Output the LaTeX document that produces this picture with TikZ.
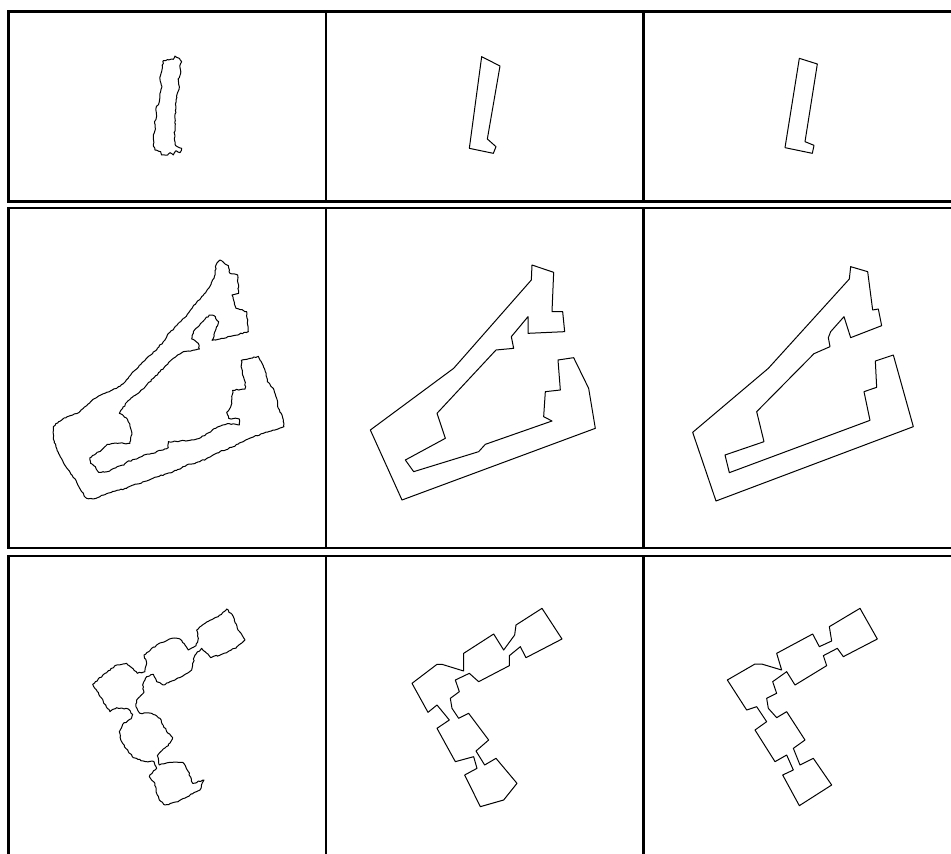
\documentclass[tikz,border=0pt]{standalone}
\usetikzlibrary{decorations.pathmorphing}
\tikzset{
  frame/.style={line width=2.4pt},
  outline/.style={line width=1pt, line join=round},
  rough/.style={outline, decorate,
                decoration={random steps, segment length=2pt, amplitude=0.6pt}},
  cell/.style={shift={#1}, scale=1/3},
}
\begin{document}
\begin{tikzpicture}[x=1pt, y=-1pt]
  \useasboundingbox (0,0) rectangle (951,854);
  \foreach \top/\bot in {11.5/201.5, 208/548, 556/880} {
    \draw[frame] (965,\top) -| (8.5,\bot) -- (965,\bot);
    \draw[frame] (326,\top) -- (326,\bot) (643.5,\top) -- (643.5,\bot);
  }
  % first row
  \begin{scope}[cell={(120,40)}]
    \draw[rough] plot coordinates {(130,62) (160,58) (165,48) (178,55) (185,65)
      (180,82) (182,100) (175,120) (178,140) (172,160) (168,180) (168,205)
      (165,235) (165,265) (163,295) (165,312) (172,320) (185,325) (180,338)
      (168,332) (160,345) (150,338) (143,345) (125,345) (122,335) (105,330)
      (100,318) (100,290) (106,268) (104,250) (110,228) (108,205) (118,185)
      (120,160) (126,140) (120,118) (125,95)} -- cycle;
  \end{scope}
  \begin{scope}[cell={(440,40)}]
    \draw[outline] plot coordinates {(125,50) (180,78) (142,297) (168,320)
      (160,340) (88,325)} -- cycle;
  \end{scope}
  \begin{scope}[cell={(760,40)}]
    \draw[outline] plot coordinates {(118,55) (172,72) (135,305) (162,316)
      (157,340) (75,323)} -- cycle;
  \end{scope}
  % second row
  \begin{scope}[cell={(0,195)}]
    \draw[rough] plot coordinates {(660,195) (685,212) (690,235) (713,240)
      (716,295) (696,300) (708,340) (740,350) (745,410) (700,422) (660,432)
      (636,436) (648,402) (656,380) (642,362) (628,360) (610,378) (598,392)
      (580,410) (575,432) (595,445) (598,462) (578,466) (550,470) (520,490)
      (500,510) (480,530) (460,550) (440,570) (420,590) (398,606) (380,622)
      (368,640) (358,655) (378,668) (390,688) (396,718) (390,745) (352,745)
      (322,748) (308,762) (288,776) (270,788) (272,805) (286,815) (296,832)
      (322,830) (342,820) (372,810) (382,800) (410,792) (432,780) (460,775)
      (482,766) (505,758) (505,740) (540,738) (580,735) (602,728) (622,715)
      (652,696) (682,686) (718,690) (718,672) (686,670) (680,652) (692,636)
      (696,610) (698,586) (735,582) (736,562) (728,540) (725,520) (724,496)
      (750,490) (775,484) (786,505) (796,530) (802,560) (820,580) (830,610)
      (835,640) (848,668) (852,695) (820,705) (790,715) (760,726) (730,740)
      (700,755) (660,770) (630,786) (600,800) (560,810) (530,826) (500,836)
      (470,846) (440,858) (400,870) (380,880) (350,886) (320,896) (300,905)
      (278,912) (260,910) (245,890) (230,862) (210,832) (190,802) (175,772)
      (160,732) (160,695) (176,680) (200,666) (230,656) (250,640) (272,620)
      (292,606) (320,592) (350,580) (376,560) (392,540) (410,522) (430,500)
      (452,480) (472,460) (490,440) (502,420) (522,400) (542,380) (562,358)
      (582,330) (602,310) (622,284) (636,260) (645,240) (648,210)} -- cycle;
  \end{scope}
  \begin{scope}[cell={(322,195)}]
    \draw[outline] plot coordinates {(630,210) (695,232) (690,350) (722,350)
      (728,410) (618,415) (618,365) (568,425) (575,460) (522,465) (345,655)
      (370,730) (250,795) (275,830) (470,770) (490,748) (690,678) (665,665)
      (670,590) (715,585) (708,495) (755,488) (800,580) (820,700) (240,915)
      (145,705) (395,520) (628,255)} -- cycle;
  \end{scope}
  \begin{scope}[cell={(640,195)}]
    \draw[outline] plot coordinates {(632,215) (683,230) (698,345) (715,342)
      (725,392) (632,428) (612,365) (572,410) (565,428) (570,455) (522,476)
      (350,650) (372,740) (255,780) (268,833) (690,676) (672,590) (710,577)
      (706,498) (760,480) (820,695) (228,918) (158,712) (385,520)
      (628,252)} -- cycle;
  \end{scope}
  % third row
  \begin{scope}[cell={(0,535)}]
    \draw[rough] plot coordinates {(680,222) (700,245) (712,280) (735,315)
      (705,340) (665,358) (632,368) (615,350) (605,340) (585,360) (578,385)
      (575,405) (545,425) (510,440) (490,450) (470,440) (460,418) (440,425)
      (428,450) (432,472) (410,495) (408,515) (420,535) (455,535) (480,550)
      (500,590) (518,608) (505,632) (480,652) (472,662) (478,690) (510,682)
      (548,682) (565,710) (578,745) (612,735) (600,765) (570,780) (535,800)
      (495,810) (478,795) (468,770) (465,745) (448,725) (458,712) (470,700)
      (462,680) (430,678) (400,668) (385,650) (365,620) (358,590) (368,568)
      (395,548) (398,538) (385,522) (350,518) (330,530) (310,500) (292,470)
      (278,448) (315,415) (350,390) (380,385) (400,402) (412,415) (435,410)
      (440,385) (432,360) (470,330) (515,310) (540,312) (555,330) (565,345)
      (588,332) (595,310) (590,285) (615,265) (655,245)} -- cycle;
  \end{scope}
  \begin{scope}[cell={(322,535)}]
    \draw[outline] plot coordinates {(660,220) (720,312) (612,368) (595,335)
      (562,362) (562,392) (470,440) (442,415) (400,435) (412,470) (385,490)
      (390,520) (410,550) (440,535) (500,615) (462,648) (488,690) (522,670)
      (585,745) (545,795) (475,815) (428,720) (465,700) (455,665) (400,680)
      (345,580) (382,555) (345,510) (318,532) (270,445) (345,388) (360,388)
      (425,408) (425,355) (515,297) (545,345) (578,300) (582,270)} -- cycle;
  \end{scope}
  \begin{scope}[cell={(640,535)}]
    \draw[outline] plot coordinates {(660,220) (712,312) (610,365) (592,340)
      (550,362) (560,392) (465,450) (440,410) (398,440) (410,475) (380,490)
      (385,520) (410,548) (440,530) (495,615) (460,640) (480,690) (520,670)
      (575,750) (478,812) (428,720) (460,705) (440,660) (405,680) (345,585)
      (380,560) (350,515) (320,525) (262,435) (345,387) (365,387) (425,405)
      (410,355) (518,297) (538,335) (575,318) (568,275)} -- cycle;
  \end{scope}
\end{tikzpicture}
\end{document}
